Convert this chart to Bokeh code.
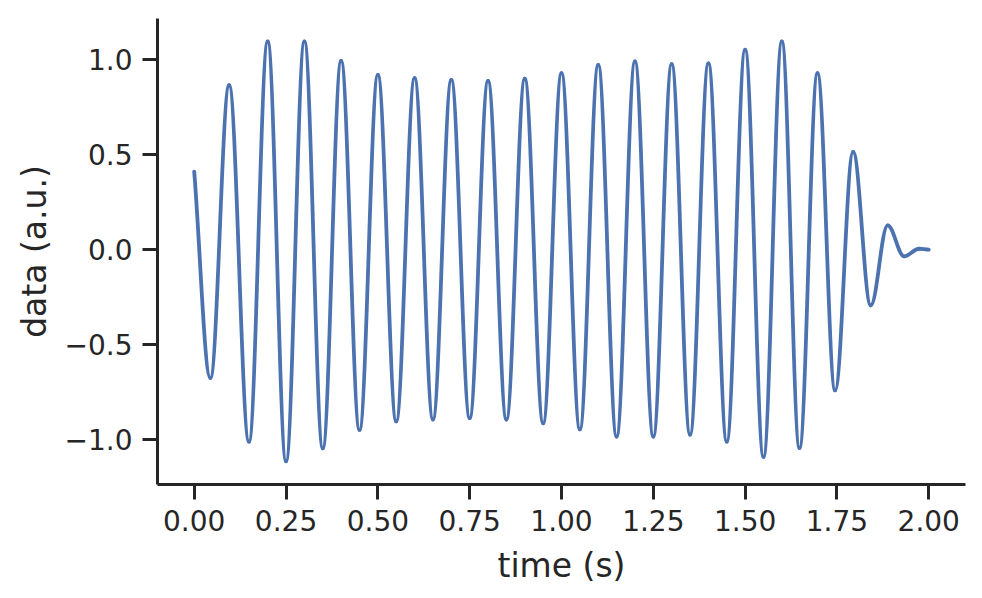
import numpy as np
from bokeh.plotting import figure
from bokeh.models import Range1d, FixedTicker, CustomJSTickFormatter
from bokeh.embed import file_html
from bokeh.resources import INLINE

# Signal: start point, successive extrema, end point
t_points = [0.000, 0.044, 0.095, 0.149, 0.200, 0.250, 0.300, 0.350, 0.400, 0.450,
            0.500, 0.550, 0.600, 0.650, 0.700, 0.750, 0.800, 0.850, 0.900, 0.950,
            1.000, 1.050, 1.100, 1.150, 1.200, 1.250, 1.300, 1.350, 1.400, 1.450,
            1.500, 1.550, 1.600, 1.648, 1.697, 1.745, 1.794, 1.842, 1.888, 1.933,
            1.974, 2.000]
y_points = [0.410, -0.675, 0.865, -1.010, 1.095, -1.113, 1.095, -1.045, 0.993, -0.948,
            0.920, -0.903, 0.902, -0.893, 0.893, -0.886, 0.888, -0.893, 0.899, -0.913,
            0.929, -0.945, 0.972, -0.983, 0.990, -0.983, 0.976, -0.973, 0.980, -1.010,
            1.052, -1.090, 1.095, -1.043, 0.928, -0.740, 0.515, -0.293, 0.128, -0.035,
            0.005, 0.000]
start_slope = -24.0  # slope of the trace at t = 0 (a.u. per second)

x_ticks = [0.0, 0.25, 0.5, 0.75, 1.0, 1.25, 1.5, 1.75, 2.0]
y_ticks = [-1.0, -0.5, 0.0, 0.5, 1.0]

TEXT = "#262626"
BLUE = "#4C72B0"
FONT = "DejaVu Sans"

p = figure(width=982, height=598, output_backend="svg", toolbar_location=None,
           x_range=Range1d(-0.1, 2.1), y_range=Range1d(-1.235, 1.216),
           min_border_left=157, min_border_right=17, min_border_top=18,
           min_border_bottom=114, background_fill_color="white",
           border_fill_color="white")

t = np.array(t_points)
y = np.array(y_points)
t0, t1 = t[:-1], t[1:]
y0, y1 = y[:-1], y[1:]
dt = t1 - t0
a = 0.364
cx0 = t0 + a * dt
cx1 = t1 - a * dt
cy0 = y0.copy()
cy0[0] = y0[0] + start_slope * a * dt[0]
cy1 = y1.copy()

p.bezier(x0=t0, y0=y0, x1=t1, y1=y1, cx0=cx0, cy0=cy0, cx1=cx1, cy1=cy1,
         line_color=BLUE, line_width=3.8, line_cap="round")

p.grid.visible = False
p.outline_line_color = None

p.xaxis.ticker = FixedTicker(ticks=x_ticks)
p.yaxis.ticker = FixedTicker(ticks=y_ticks)
p.xaxis.formatter = CustomJSTickFormatter(code="return tick.toFixed(2);")
p.yaxis.formatter = CustomJSTickFormatter(
    code="return (tick < 0 ? '\u2212' : '') + Math.abs(tick).toFixed(1);")

p.xaxis.axis_label = "time (s)"
p.yaxis.axis_label = "data (a.u.)"

for ax in (p.xaxis, p.yaxis):
    ax.axis_line_color = TEXT
    ax.axis_line_width = 3
    ax.major_tick_line_color = TEXT
    ax.major_tick_line_width = 3
    ax.major_tick_out = 15
    ax.major_tick_in = 0
    ax.minor_tick_line_color = None
    ax.major_label_text_font = FONT
    ax.major_label_text_font_size = "28px"
    ax.major_label_text_color = TEXT
    ax.axis_label_text_font = FONT
    ax.axis_label_text_font_size = "33px"
    ax.axis_label_text_font_style = "normal"
    ax.axis_label_text_color = TEXT

p.xaxis.major_label_standoff = 10
p.yaxis.major_label_standoff = 10
p.xaxis.axis_label_standoff = 12
p.yaxis.axis_label_standoff = 8

open("out.html", "w").write(file_html(p, INLINE))
